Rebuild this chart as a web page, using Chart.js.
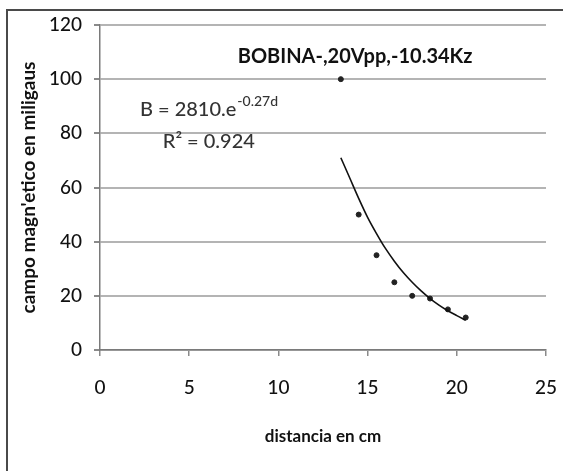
<!DOCTYPE html>
<html>
<head>
<meta charset="utf-8">
<script src="https://cdn.jsdelivr.net/npm/chart.js@4"></script>
<style>
  html, body { margin: 0; padding: 0; background: #fff; }
  #wrap { width: 563px; height: 471px; }
</style>
</head>
<body>
<div id="wrap"><canvas id="chart" width="563" height="471"></canvas></div>
<script>
// measured points (distance cm, field mG)
const distances = [13.5, 14.5, 15.5, 16.5, 17.5, 18.5, 19.5, 20.5];
const fieldValues = [100, 50, 35, 25, 20, 19, 15, 12];

// exponential trendline
const trendDistances = [13.5, 14, 14.5, 15, 15.5, 16, 16.5, 17, 17.5, 18, 18.5, 19, 19.5, 20, 20.5];
const trendValues = [71, 63.5, 56, 49, 43, 37.5, 32.8, 28.6, 25, 21.8, 19, 16.6, 14.5, 12.7, 11];

const xTicks = [0, 5, 10, 15, 20, 25];
const yTicks = [0, 20, 40, 60, 80, 100, 120];

const chartTitle = "BOBINA-,20Vpp,-10.34Kz";
const equationText = "B = 2810.e";
const equationExp = "-0.27d";
const r2Text = "R² = 0.924";

const fontFamily = "Lato, 'Open Sans', sans-serif";

const frameAndLabels = {
  id: "frameAndLabels",
  beforeDraw(chart) {
    const ctx = chart.ctx;
    ctx.save();
    ctx.strokeStyle = "#4a4a4a";
    ctx.lineWidth = 2;
    ctx.beginPath();
    ctx.moveTo(7, 471);
    ctx.lineTo(7, 10);
    ctx.lineTo(563, 10);
    ctx.stroke();
    ctx.restore();
  },
  afterDraw(chart) {
    const ctx = chart.ctx;
    const x = chart.scales.x;
    const y = chart.scales.y;
    ctx.save();
    ctx.fillStyle = "#111";
    ctx.textBaseline = "middle";
    ctx.textAlign = "center";
    ctx.font = "bold 20px " + fontFamily;
    ctx.fillText(chartTitle, x.getPixelForValue(14.3), y.getPixelForValue(108.5));

    ctx.fillStyle = "#333";
    ctx.textBaseline = "alphabetic";
    ctx.textAlign = "left";
    ctx.font = "500 20px " + fontFamily;
    const ex = x.getPixelForValue(2.24);
    const ey = y.getPixelForValue(86.5);
    ctx.fillText(equationText, ex, ey);
    const w = ctx.measureText(equationText).width;
    ctx.font = "500 14px " + fontFamily;
    ctx.fillText(equationExp, ex + w + 1, ey - 10);

    ctx.font = "500 20px " + fontFamily;
    ctx.textAlign = "center";
    ctx.fillText(r2Text, x.getPixelForValue(6.1), y.getPixelForValue(74.5));
    ctx.restore();
  },
};

new Chart(document.getElementById("chart"), {
  type: "scatter",
  data: {
    datasets: [
      {
        label: "trend",
        type: "line",
        data: trendDistances.map((d, i) => ({ x: d, y: trendValues[i] })),
        borderColor: "#111",
        borderWidth: 1.6,
        pointRadius: 0,
        cubicInterpolationMode: "monotone",
        fill: false,
      },
      {
        label: "B",
        data: distances.map((d, i) => ({ x: d, y: fieldValues[i] })),
        backgroundColor: "#222",
        borderColor: "#222",
        pointRadius: 2.5,
        pointHoverRadius: 2.5,
      },
    ],
  },
  options: {
    responsive: false,
    animation: false,
    layout: { padding: { left: 8, right: 17, top: 25, bottom: 0 } },
    plugins: {
      legend: { display: false },
      tooltip: { enabled: false },
    },
    scales: {
      x: {
        type: "linear",
        min: 0,
        max: 25,
        afterBuildTicks: (scale) => {
          scale.ticks = xTicks.map((v) => ({ value: v }));
        },
        afterFit: (scale) => {
          scale.height = 121;
          scale.paddingLeft = 0;
          scale.paddingRight = 0;
        },
        grid: {
          drawOnChartArea: false,
          drawTicks: true,
          tickLength: 6,
          color: "#8a8a8a",
          lineWidth: 1.5,
        },
        border: { color: "#7a7a7a", width: 1.5 },
        ticks: {
          padding: 20,
          color: "#111",
          font: { family: fontFamily, size: 19, weight: 500 },
        },
        title: {
          display: true,
          text: "distancia en cm",
          color: "#111",
          font: { family: fontFamily, size: 17, weight: "bold" },
          padding: { top: 0, bottom: 24 },
        },
      },
      y: {
        type: "linear",
        min: 0,
        max: 120,
        afterBuildTicks: (scale) => {
          scale.ticks = yTicks.map((v) => ({ value: v }));
        },
        afterFit: (scale) => {
          scale.width = 92;
          scale.paddingTop = 0;
          scale.paddingBottom = 0;
        },
        grid: {
          color: "#b4b4b4",
          lineWidth: 2,
          drawTicks: true,
          tickLength: 6,
          tickColor: "#8a8a8a",
        },
        border: { color: "#7a7a7a", width: 1.5 },
        ticks: {
          padding: 12,
          color: "#111",
          font: { family: fontFamily, size: 19, weight: 500 },
        },
        title: {
          display: true,
          text: "campo magn'etico en miligaus",
          color: "#111",
          font: { family: fontFamily, size: 19, weight: "bold" },
          padding: { top: 9, bottom: 0 },
        },
      },
    },
  },
  plugins: [frameAndLabels],
});
</script>
</body>
</html>
